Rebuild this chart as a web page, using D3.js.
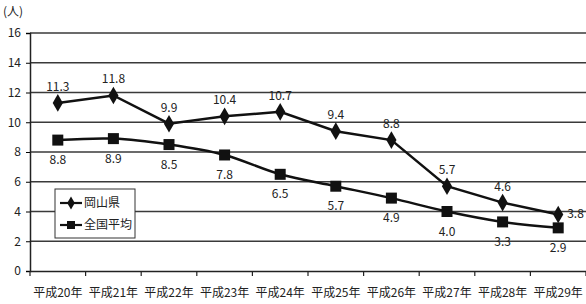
<!DOCTYPE html>
<html>
<head>
<meta charset="utf-8">
<script src="https://cdn.jsdelivr.net/npm/d3@7"></script>
<style>
  body { margin: 0; background: #fff; }
  text { font-family: "Noto Sans CJK JP", "Noto Sans", sans-serif; fill: #222; }
</style>
</head>
<body>
<div id="chart"></div>
<script>
var years = ["平成20年", "平成21年", "平成22年", "平成23年", "平成24年", "平成25年", "平成26年", "平成27年", "平成28年", "平成29年"]
var okayama = [11.3, 11.8, 9.9, 10.4, 10.7, 9.4, 8.8, 5.7, 4.6, 3.8]
var national = [8.8, 8.9, 8.5, 7.8, 6.5, 5.7, 4.9, 4.0, 3.3, 2.9]
var yTicks = [0, 2, 4, 6, 8, 10, 12, 14, 16]

var width = 586, height = 304
var margin = {top: 33, right: 0, bottom: 33, left: 30}

var svg = d3.select("#chart").append("svg")
  .attr("width", width).attr("height", height)

var x = d3.scaleBand().domain(years)
  .range([margin.left, width - margin.right])
var y = d3.scaleLinear().domain([0, 16])
  .range([height - margin.bottom, margin.top])

// grid lines
svg.append("g").selectAll("line")
  .data(yTicks.slice(1))
  .enter().append("line")
  .attr("x1", margin.left).attr("x2", width)
  .attr("y1", d => y(d)).attr("y2", d => y(d))
  .attr("stroke", "#3a3a3a").attr("stroke-width", 1.6)

// y axis
var yAxis = svg.append("g")
  .attr("transform", `translate(${margin.left},0)`)
  .call(d3.axisLeft(y).tickValues(yTicks).tickSize(4).tickPadding(5))
yAxis.select(".domain").attr("stroke", "#222").attr("stroke-width", 1.5)
yAxis.selectAll("text").attr("font-size", 12).style("fill", "#222")

// x axis
var xAxis = svg.append("g")
  .attr("transform", `translate(0,${y(0)})`)
  .call(d3.axisBottom(x).tickSize(0).tickPadding(17))
xAxis.select(".domain").attr("stroke", "#222").attr("stroke-width", 1.6)
xAxis.selectAll("text").attr("font-size", 12).style("fill", "#222")
xAxis.selectAll(".bnd").data(years.concat([null]))
  .enter().append("line")
  .attr("x1", (d, i) => margin.left + i * x.step())
  .attr("x2", (d, i) => margin.left + i * x.step())
  .attr("y1", 0).attr("y2", 5)
  .attr("stroke", "#222").attr("stroke-width", 1.2)

svg.append("text").attr("x", 3).attr("y", 16)
  .attr("font-size", 12).text("(人)")

var cx = d => x(d) + x.bandwidth() / 2

// national line
svg.append("path")
  .datum(national)
  .attr("fill", "none").attr("stroke", "#111").attr("stroke-width", 2.5)
  .attr("d", d3.line().x((d, i) => cx(years[i])).y(d => y(d)).curve(d3.curveCatmullRom))
svg.append("g").selectAll("rect")
  .data(national).enter().append("rect")
  .attr("x", (d, i) => cx(years[i]) - 5.5).attr("y", d => y(d) - 5.5)
  .attr("width", 11).attr("height", 11).attr("fill", "#111")

// okayama line
svg.append("path")
  .datum(okayama)
  .attr("fill", "none").attr("stroke", "#111").attr("stroke-width", 2.5)
  .attr("d", d3.line().x((d, i) => cx(years[i])).y(d => y(d)))
var diamond = d3.symbol().type(d3.symbolDiamond).size(90)
svg.append("g").selectAll("path")
  .data(okayama).enter().append("path")
  .attr("d", diamond)
  .attr("transform", (d, i) => `translate(${cx(years[i])},${y(d)})`)
  .attr("fill", "#111")

// labels
svg.append("g").selectAll("text")
  .data(okayama).enter().append("text")
  .attr("x", (d, i) => i == 9 ? cx(years[i]) + 9 : cx(years[i]))
  .attr("y", (d, i) => i == 9 ? y(d) + 4 : y(d) - 12)
  .attr("text-anchor", (d, i) => i == 9 ? "start" : "middle")
  .attr("font-size", 12)
  .text(d => d.toFixed(1))
svg.append("g").selectAll("text")
  .data(national).enter().append("text")
  .attr("x", (d, i) => cx(years[i]))
  .attr("y", d => y(d) + 24)
  .attr("text-anchor", "middle")
  .attr("font-size", 12)
  .text(d => d.toFixed(1))

// legend
var legend = svg.append("g").attr("transform", "translate(55,189)")
legend.append("rect").attr("width", 80).attr("height", 49)
  .attr("fill", "#fff").attr("stroke", "#333").attr("stroke-width", 1)
var items = [["岡山県", "diamond"], ["全国平均", "square"]]
items.forEach(function(it, i){
  var ly = 14 + i * 22
  legend.append("line").attr("x1", 5).attr("x2", 27).attr("y1", ly).attr("y2", ly)
    .attr("stroke", "#111").attr("stroke-width", 2.2)
  if (it[1] == "diamond")
    legend.append("path").attr("d", d3.symbol().type(d3.symbolDiamond).size(50))
      .attr("transform", `translate(16,${ly})`).attr("fill", "#111")
  else
    legend.append("rect").attr("x", 12).attr("y", ly - 4).attr("width", 8).attr("height", 8).attr("fill", "#111")
  legend.append("text").attr("x", 29).attr("y", ly + 4).attr("font-size", 12).text(it[0])
})
</script>
</body>
</html>
